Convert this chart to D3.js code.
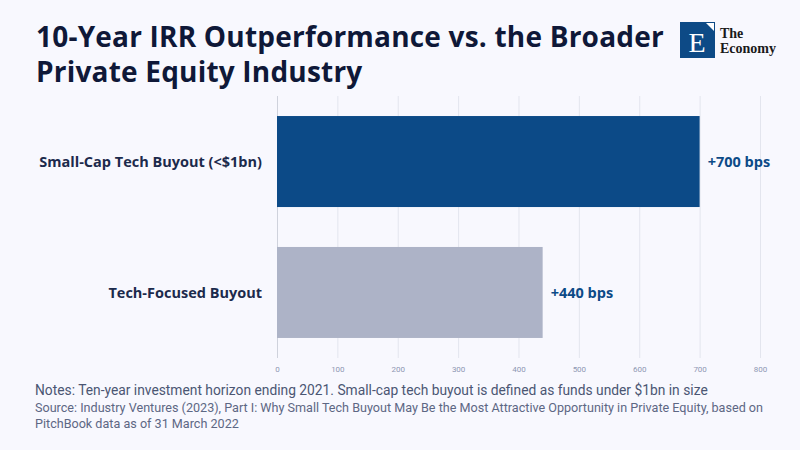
<!DOCTYPE html>
<html>
<head>
<meta charset="utf-8">
<script src="https://cdn.jsdelivr.net/npm/d3@7"></script>
<style>
  body { margin: 0; background: #f8f8fe; }
  svg { display: block; }
  .title { font-family: "Open Sans", sans-serif; font-weight: 700; font-size: 28px; letter-spacing: 0.2px; fill: #0f1838; }
  .cat { font-family: "Open Sans", sans-serif; font-weight: 700; font-size: 14.5px; fill: #1c2a4c; }
  .val { font-family: "Open Sans", sans-serif; font-weight: 700; font-size: 14.5px; fill: #0c4a87; }
  .tick-label { font-family: "Roboto", sans-serif; font-size: 8px; fill: #8e97b3; }
  .notes { font-family: "Roboto", sans-serif; font-size: 13.8px; fill: #4b5673; }
  .source { font-family: "Roboto", sans-serif; font-size: 12.6px; fill: #5d6784; }
</style>
</head>
<body>
<div id="chart"></div>
<script>
// data
const categories = ['Small-Cap Tech Buyout (<$1bn)', 'Tech-Focused Buyout'];
const values = [700, 440];
const valueLabels = ['+700 bps', '+440 bps'];
const xTicks = [0, 100, 200, 300, 400, 500, 600, 700, 800];
const barColors = ['#0c4a87', '#adb3c7'];

const titleLines = ['10-Year IRR Outperformance vs. the Broader', 'Private Equity Industry'];
const notesText = 'Notes: Ten-year investment horizon ending 2021. Small-cap tech buyout is defined as funds under $1bn in size';
const sourceLines = [
    'Source: Industry Ventures (2023), Part I: Why Small Tech Buyout May Be the Most Attractive Opportunity in Private Equity, based on',
    'PitchBook data as of 31 March 2022'
];

let width = 800,
    height = 450,
    plot = {left: 277, right: 760, top: 96, bottom: 358};

let svg = d3.select('#chart')
    .append('svg')
    .attr('width', width)
    .attr('height', height);

svg.append('rect')
    .attr('width', width)
    .attr('height', height)
    .attr('fill', '#f8f8fe');

// title
svg.selectAll('text.title')
    .data(titleLines).enter()
    .append('text')
    .classed('title', true)
    .attr('x', 36)
    .attr('y', (d, i) => 47 + i * 35)
    .text(d => d);

// logo
let logo = svg.append('g').attr('transform', 'translate(680,22)');
logo.append('rect')
    .attr('width', 35)
    .attr('height', 36)
    .attr('fill', '#0d4a86');
logo.append('path')
    .attr('d', 'M26,1 L34,1 L34,9 Z')
    .attr('fill', '#ffffff');
logo.append('text')
    .attr('x', 17)
    .attr('y', 30)
    .attr('text-anchor', 'middle')
    .style('font-family', '"Liberation Serif", serif')
    .style('font-size', '28px')
    .style('fill', '#ffffff')
    .text('E');
logo.append('text')
    .attr('x', 40)
    .attr('y', 16)
    .style('font-family', '"Liberation Serif", serif')
    .style('font-weight', 700)
    .style('font-size', '14px')
    .style('fill', '#1a1a1a')
    .text('The');
logo.append('text')
    .attr('x', 40)
    .attr('y', 31)
    .style('font-family', '"Liberation Serif", serif')
    .style('font-weight', 700)
    .style('font-size', '14px')
    .style('fill', '#1a1a1a')
    .text('Economy');

// scales
let xScale = d3.scaleLinear()
    .domain([0, 800])
    .range([plot.left, plot.right]);

let yScale = d3.scaleBand()
    .domain(categories)
    .range([plot.top, plot.bottom])
    .paddingInner(0.305)
    .paddingOuter(0.153);

// gridlines + tick labels
let xAxis = svg.append('g')
    .attr('transform', `translate(0,${plot.bottom})`)
    .call(d3.axisBottom(xScale)
        .tickValues(xTicks)
        .tickSize(-(plot.bottom - plot.top))
        .tickPadding(8)
        .tickFormat(d3.format('d')));

xAxis.select('.domain').remove();
xAxis.selectAll('.tick line')
    .attr('stroke', d => d === 0 ? '#cfd2dc' : '#e3e5ee')
    .attr('stroke-width', 1);
xAxis.selectAll('.tick text')
    .attr('class', 'tick-label')
    .attr('fill', null);

// bars
svg.selectAll('rect.bar')
    .data(values).enter()
    .append('rect')
    .classed('bar', true)
    .attr('x', xScale(0))
    .attr('y', (d, i) => yScale(categories[i]))
    .attr('width', d => xScale(d) - xScale(0))
    .attr('height', yScale.bandwidth())
    .attr('fill', (d, i) => barColors[i]);

// category labels
svg.selectAll('text.cat')
    .data(categories).enter()
    .append('text')
    .classed('cat', true)
    .attr('x', 262)
    .attr('y', d => yScale(d) + yScale.bandwidth() / 2)
    .attr('dy', '0.35em')
    .attr('text-anchor', 'end')
    .text(d => d);

// value labels
svg.selectAll('text.val')
    .data(values).enter()
    .append('text')
    .classed('val', true)
    .attr('x', d => xScale(d) + 8)
    .attr('y', (d, i) => yScale(categories[i]) + yScale.bandwidth() / 2)
    .attr('dy', '0.35em')
    .text((d, i) => valueLabels[i]);

// notes and source
svg.append('text')
    .classed('notes', true)
    .attr('x', 35)
    .attr('y', 395)
    .text(notesText);

svg.selectAll('text.source')
    .data(sourceLines).enter()
    .append('text')
    .classed('source', true)
    .attr('x', 35)
    .attr('y', (d, i) => 412 + i * 16)
    .text(d => d);
</script>
</body>
</html>
